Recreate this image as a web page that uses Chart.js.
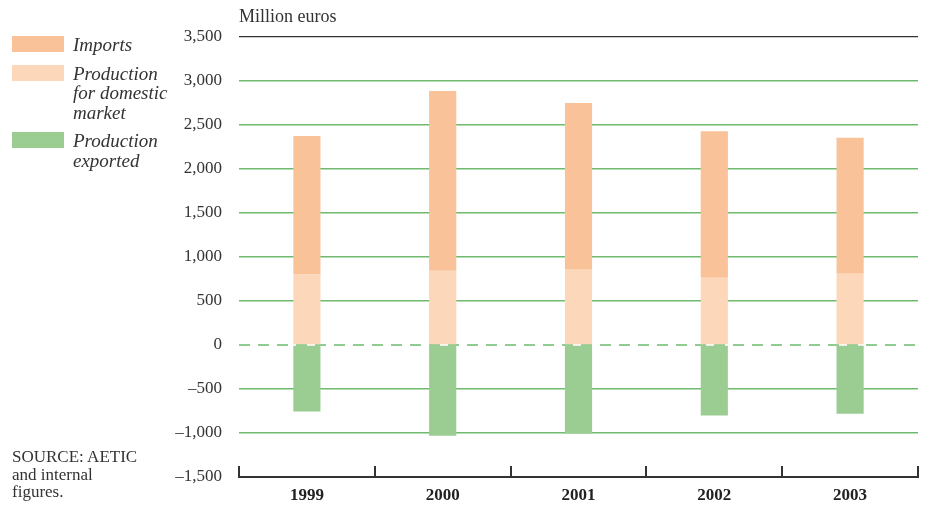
<!DOCTYPE html>
<html>
<head>
<meta charset="utf-8">
<script src="https://cdn.jsdelivr.net/npm/chart.js@4.4.1/dist/chart.umd.min.js"></script>
<style>
  body { margin: 0; background: #fff; }
  #wrap { position: relative; width: 926px; height: 521px; font-family: "Liberation Serif", serif; color: #333; }
  #wrap canvas { position: absolute; left: 0; top: 0; }
  .unit { position: absolute; left: 239px; top: 6px; font-size: 18px; }
  .legend { position: absolute; left: 12px; top: 35px; font-size: 19px; font-style: italic; line-height: 19.5px; }
  .item { position: relative; padding-left: 61px; margin-bottom: 9px; }
  .sw { position: absolute; left: 0; top: 1px; width: 52px; height: 16px; }
  .source { position: absolute; left: 12px; top: 448px; font-size: 17px; line-height: 17.5px; }
</style>
</head>
<body>
<div id="wrap">
  <canvas id="chart" width="926" height="521"></canvas>
  <div class="unit">Million euros</div>
  <div class="legend" id="legend"></div>
  <div class="source">SOURCE: AETIC<br>and internal<br>figures.</div>
</div>
<script>
// Data (million euros)
const years = ["1999", "2000", "2001", "2002", "2003"];
const domestic = [800, 845, 865, 765, 810];
const imports = [1575, 2040, 1885, 1665, 1545];
const exported = [-755, -1030, -1005, -800, -780];

const seriesNames = ["Imports", "Production\nfor domestic\nmarket", "Production\nexported"];
const colors = ["#f9c298", "#fdd7b9", "#9bcd93"];

const gridGreen = "#6fba6f";
const darkLine = "#333333";

// Legend (left side, HTML)
const legend = document.getElementById("legend");
seriesNames.forEach(function (name, i) {
  const item = document.createElement("div");
  item.className = "item";
  const sw = document.createElement("span");
  sw.className = "sw";
  sw.style.background = colors[i];
  item.appendChild(sw);
  name.split("\n").forEach(function (line, j) {
    if (j > 0) item.appendChild(document.createElement("br"));
    item.appendChild(document.createTextNode(line));
  });
  legend.appendChild(item);
});

// Zero dashed line + small tick marks on the bottom axis
const axisMarks = {
  id: "axisMarks",
  beforeDatasetsDraw(chart) {
    const { ctx, chartArea, scales } = chart;
    const y0 = scales.y.getPixelForValue(0);
    ctx.save();
    ctx.strokeStyle = gridGreen;
    ctx.lineWidth = 1.5;
    ctx.setLineDash([11, 8]);
    ctx.beginPath();
    ctx.moveTo(chartArea.left, y0);
    ctx.lineTo(chartArea.right, y0);
    ctx.stroke();
    ctx.restore();
  },
  afterDraw(chart) {
    const { ctx, chartArea, scales } = chart;
    ctx.save();
    ctx.strokeStyle = darkLine;
    ctx.lineWidth = 2;
    for (let i = 0; i <= years.length; i++) {
      const x = Math.round(scales.x.getPixelForValue(i - 0.5));
      ctx.beginPath();
      ctx.moveTo(x, chartArea.bottom);
      ctx.lineTo(x, chartArea.bottom - 11);
      ctx.stroke();
    }
    ctx.restore();
  },
};

const ctx = document.getElementById("chart").getContext("2d");
new Chart(ctx, {
  type: "bar",
  data: {
    labels: years,
    datasets: [
      { label: "Production for domestic market", data: domestic, backgroundColor: colors[1] },
      { label: "Imports", data: imports, backgroundColor: colors[0] },
      { label: "Production exported", data: exported, backgroundColor: colors[2] },
    ],
  },
  options: {
    responsive: false,
    animation: false,
    barPercentage: 0.8,
    categoryPercentage: 0.25,
    layout: { padding: { top: 37, right: 8, bottom: 0, left: 0 } },
    plugins: {
      legend: { display: false },
      tooltip: { enabled: false },
    },
    scales: {
      x: {
        stacked: true,
        grid: { display: false },
        border: { display: true, color: darkLine, width: 2 },
        ticks: {
          padding: 0,
          color: "#222",
          font: { family: "Liberation Serif", size: 17, weight: "bold" },
        },
        afterFit(scale) { scale.height = 44; },
      },
      y: {
        stacked: true,
        min: -1500,
        max: 3500,
        border: { display: false },
        grid: {
          drawTicks: false,
          lineWidth: function (c) { return c.tick.value === 3500 ? 1.2 : 1.5; },
          color: function (c) {
            if (c.tick.value === 3500) return darkLine;
            if (c.tick.value === 0 || c.tick.value === -1500) return "rgba(0,0,0,0)";
            return gridGreen;
          },
        },
        ticks: {
          stepSize: 500,
          padding: 17,
          color: "#333",
          font: { family: "Liberation Serif", size: 17 },
          callback: function (v) {
            return v.toLocaleString("en-US").replace("-", "\u2013");
          },
        },
        afterFit(scale) { scale.width = 239; },
      },
    },
  },
  plugins: [axisMarks],
});
</script>
</body>
</html>
